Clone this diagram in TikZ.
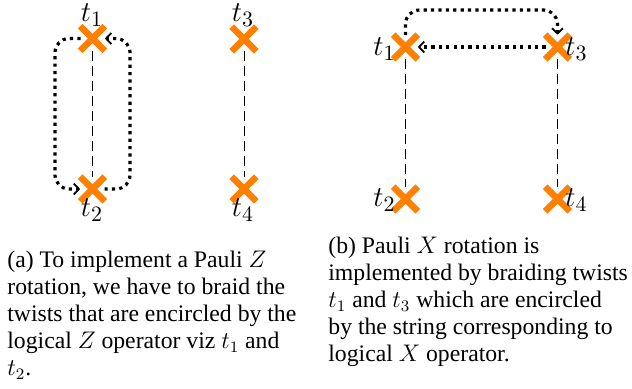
\documentclass[tikz,border=0pt]{standalone}
\usepackage{fontspec}
\setmainfont{Liberation Serif}
\usetikzlibrary{shapes.misc,arrows.meta}
\definecolor{twist}{RGB}{255,128,0}
\begin{document}
\begin{tikzpicture}[x=0.5pt,y=-0.5pt,
  twistnode/.style={cross out,draw=twist,line width=3.3pt,minimum size=9pt,inner sep=0pt},
  lbl/.style={font=\fontsize{15}{15}\selectfont,inner sep=0pt},
  dashline/.style={line width=0.4pt,dash pattern=on 5pt off 2.5pt},
  dotline/.style={line width=1.6pt,dash pattern=on 1.6pt off 2.1pt,rounded corners=7pt},
  arr/.style={-{Straight Barb[length=2.6pt,width=5.5pt,line width=0.9pt]}},
  capt/.style={font=\fontsize{11.85}{13.5}\selectfont,align=left,inner sep=0pt,anchor=north west}
]
\useasboundingbox (0,0) rectangle (632,388);
% ---- (a) ----
\node[twistnode] (a1) at (92.5,38.5) {};
\node[twistnode] (a2) at (92.5,189) {};
\node[twistnode] (a3) at (244,39) {};
\node[twistnode] (a4) at (244,189) {};
\draw[dashline] (a1) -- (a2);
\draw[dashline] (a3) -- (a4);
\node[lbl] (la1) at (92,15) {$t_1$};
\node[lbl] (la2) at (92,210) {$t_2$};
\node[lbl] (la3) at (243,15) {$t_3$};
\node[lbl] (la4) at (243,210) {$t_4$};
\coordinate (aTL) at (55,38.5);
\coordinate (aBL) at (55,189);
\coordinate (aTR) at (130,38.5);
\coordinate (aBR) at (130,189);
\draw[dotline,arr] ([xshift=-6pt]a1.center) -- (aTL) -- (aBL) -- (a2.west);
\draw[dotline,arr] ([xshift=6pt]a2.center) -- (aBR) -- (aTR) -- (a1.east);
% ---- (b) ----
\node[twistnode] (b1) at (405.5,47) {};
\node[twistnode] (b3) at (557.5,47) {};
\node[twistnode] (b2) at (405.5,199) {};
\node[twistnode] (b4) at (557.5,199) {};
\draw[dashline] (b1) -- (b2);
\draw[dashline] (b3) -- (b4);
\node[lbl,anchor=east] (lb1) at (396,49) {$t_1$};
\node[lbl,anchor=west] (lb3) at (565,49) {$t_3$};
\node[lbl,anchor=east] (lb2) at (396,200) {$t_2$};
\node[lbl,anchor=west] (lb4) at (565,200) {$t_4$};
\coordinate (bTL) at (405.5,10);
\coordinate (bTR) at (557.5,10);
\draw[dotline,arr] ([xshift=-6pt]b3.center) -- (b1.east);
\draw[dotline,arr] ([yshift=6pt]b1.center) -- (bTL) -- (bTR) -- (b3.north);
% ---- captions ----
\node[capt] (capa) at (7,251) {(a) To implement a Pauli $Z$\\rotation, we have to braid the\\twists that are encircled by the\\logical $Z$ operator viz $t_1$ and\\$t_2$.};
\node[capt] (capb) at (328,237) {(b) Pauli $X$ rotation is\\implemented by braiding twists\\$t_1$ and $t_3$ which are encircled\\by the string corresponding to\\logical $X$ operator.};
\end{tikzpicture}
\end{document}
